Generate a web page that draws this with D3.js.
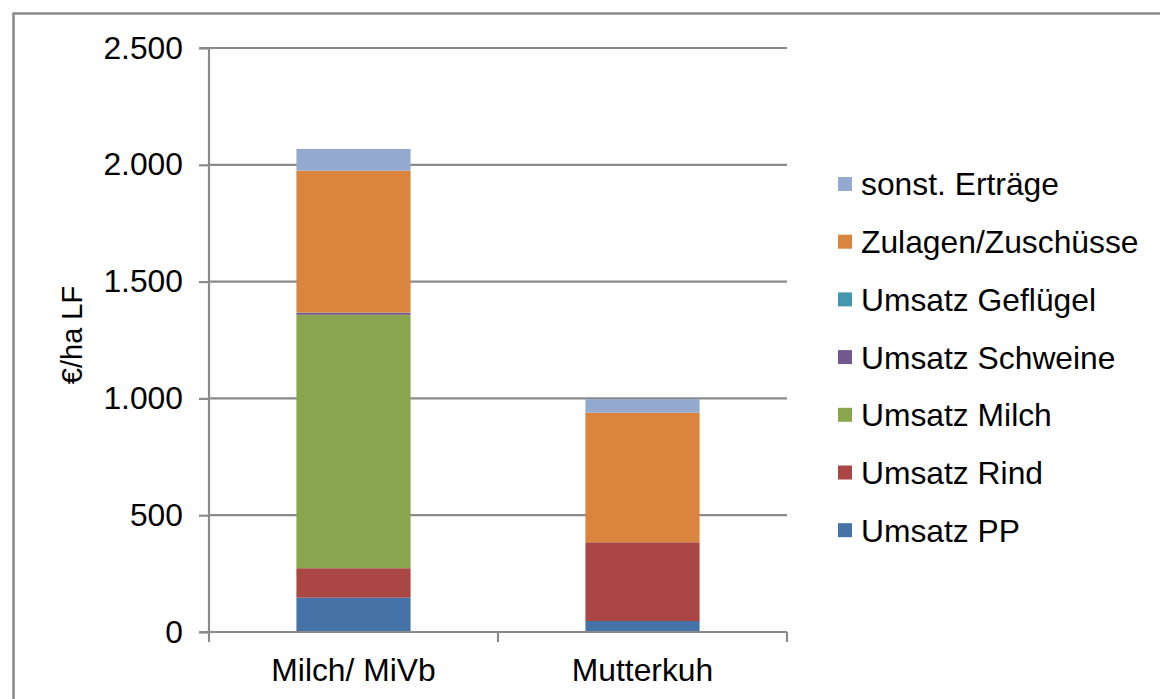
<!DOCTYPE html>
<html>
<head>
<meta charset="utf-8">
<script src="https://cdn.jsdelivr.net/npm/d3@7"></script>
<style>
  html, body { margin: 0; padding: 0; background: #fff; }
  svg { display: block; font-family: "Liberation Sans", Arial, sans-serif; }
</style>
</head>
<body>
<svg id="chart" width="1160" height="699"></svg>
<script>
const categories = ["Milch/ MiVb", "Mutterkuh"];
const seriesNames = ["Umsatz PP", "Umsatz Rind", "Umsatz Milch", "Umsatz Schweine", "Umsatz Geflügel", "Zulagen/Zuschüsse", "sonst. Erträge"];
const seriesColors = ["#4572A7", "#AA4643", "#89A54E", "#71588F", "#4198AF", "#DB843D", "#93A9CF"];
const valuesPP        = [147, 47];
const valuesRind      = [126, 337];
const valuesMilch     = [1085, 0];
const valuesSchweine  = [8, 0];
const valuesGefluegel = [1, 0];
const valuesZulagen   = [608, 555];
const valuesSonst     = [93, 58];
const yTicks = [0, 500, 1000, 1500, 2000, 2500];
const yTitle = "€/ha LF";

(function () {
const seriesValues = [valuesPP, valuesRind, valuesMilch, valuesSchweine, valuesGefluegel, valuesZulagen, valuesSonst];
const table = categories.map((c, i) => {
  const row = { category: c };
  seriesNames.forEach((s, j) => row[s] = seriesValues[j][i]);
  return row;
});

const svg = d3.select("#chart");
const pLeft = 209, pRight = 787, pTop = 48, pBottom = 632;
const fontSize = 31.8;
const gridColor = "#8a8a8a";

// outer border
svg.append("rect").attr("x", 13.5).attr("y", 13.5).attr("width", 1160).attr("height", 700)
  .attr("fill", "none").attr("stroke", gridColor).attr("stroke-width", 2.5);

const x = d3.scaleBand().domain(categories).range([pLeft, pRight]).paddingInner(0.605).paddingOuter(0.3025);
const y = d3.scaleLinear().domain([0, 2500]).range([pBottom, pTop]);

const de = d3.formatLocale({ decimal: ",", thousands: ".", grouping: [3], currency: ["", "€"] });
const fmt = de.format(",.0f");

// gridlines
svg.append("g").selectAll("line").data(yTicks.filter(t => t > 0)).join("line")
  .attr("x1", pLeft).attr("x2", pRight)
  .attr("y1", d => y(d)).attr("y2", d => y(d))
  .attr("stroke", gridColor).attr("stroke-width", 2.2);

// bars
const stacked = d3.stack().keys(seriesNames)(table);
svg.append("g").selectAll("g").data(stacked).join("g")
  .attr("fill", (d, i) => seriesColors[i])
  .selectAll("rect").data(d => d).join("rect")
  .attr("x", d => x(d.data.category))
  .attr("width", x.bandwidth())
  .attr("y", d => y(d[1]))
  .attr("height", d => Math.max(0, y(d[0]) - y(d[1])));

// y axis
const yAxis = d3.axisLeft(y).tickValues(yTicks).tickFormat(fmt).tickSize(10).tickPadding(16);
const gy = svg.append("g").attr("transform", `translate(${pLeft},0)`).call(yAxis);
gy.select(".domain").attr("stroke", gridColor).attr("stroke-width", 2.2).attr("d", `M-10,${pTop}H0V${pBottom}H-10`);
gy.selectAll(".tick line").attr("stroke", gridColor).attr("stroke-width", 2.2);
gy.selectAll(".tick text").attr("font-size", fontSize).attr("fill", "#000")
  .attr("font-family", "'Liberation Sans', Arial, sans-serif");

// x axis
const xAxis = d3.axisBottom(x).tickSize(0).tickPadding(26);
const gx = svg.append("g").attr("transform", `translate(0,${pBottom})`).call(xAxis);
gx.select(".domain").attr("stroke", gridColor).attr("stroke-width", 2.2).attr("d", `M${pLeft},0H${pRight}`);
gx.selectAll(".tick text").attr("font-size", fontSize).attr("fill", "#000")
  .attr("font-family", "'Liberation Sans', Arial, sans-serif");
const sepPos = [pLeft, (x(categories[0]) + x.bandwidth() + x(categories[1])) / 2, pRight];
gx.append("g").selectAll("line").data(sepPos).join("line")
  .attr("x1", d => d).attr("x2", d => d).attr("y1", 0).attr("y2", 10)
  .attr("stroke", gridColor).attr("stroke-width", 2.2);

// y title
svg.append("text")
  .attr("transform", `translate(82,335) rotate(-90)`)
  .attr("text-anchor", "middle")
  .attr("font-size", 29)
  .attr("fill", "#000")
  .text(yTitle);

// legend
const legendOrder = seriesNames.map((s, i) => i).reverse();
const lg = svg.append("g");
legendOrder.forEach((si, k) => {
  const cy = 184 + k * 57.7;
  lg.append("rect").attr("x", 838).attr("y", cy - 7).attr("width", 14).attr("height", 14)
    .attr("fill", seriesColors[si]);
  lg.append("text").attr("x", 861).attr("y", cy).attr("dy", "0.36em")
    .attr("font-size", fontSize).attr("fill", "#000").text(seriesNames[si]);
});
})();
</script>
</body>
</html>
